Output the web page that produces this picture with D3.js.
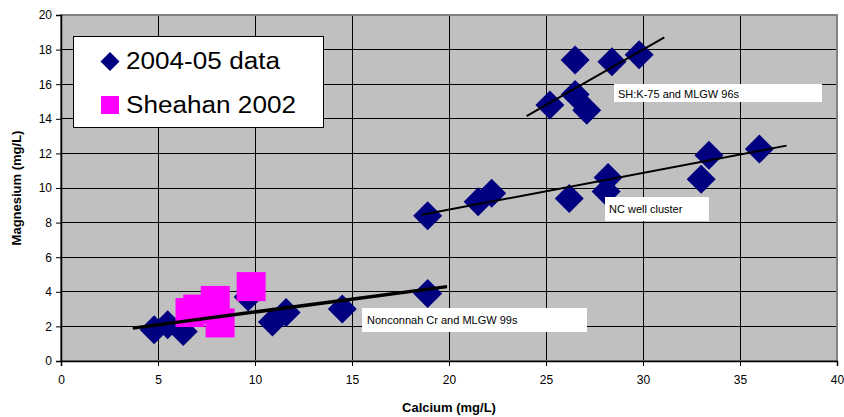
<!DOCTYPE html>
<html><head><meta charset="utf-8">
<script src="https://cdn.jsdelivr.net/npm/d3@7"></script>
<style>body{margin:0;background:#fff;}svg{display:block;font-family:"Liberation Sans",Arial,sans-serif;}</style>
</head><body>
<svg id="chart" width="844" height="417"></svg>
<script>
// Data: Calcium (mg/L) vs Magnesium (mg/L)
const data0405Ca = [4.8, 5.5, 6.3, 9.65, 10.9, 11.6, 14.5, 18.9,
                    18.9, 21.5, 22.2, 26.2, 28.1, 28.2, 33.0, 33.4, 36.0,
                    25.2, 26.5, 27.1, 26.5, 28.4, 29.8];
const data0405Mg = [1.8, 2.1, 1.7, 3.7, 2.25, 2.8, 3.0, 3.9,
                    8.4, 9.2, 9.7, 9.4, 9.8, 10.6, 10.5, 11.9, 12.25,
                    14.8, 15.4, 14.5, 17.4, 17.3, 17.7];
const sheahanCa = [6.65, 7.05, 7.95, 8.2, 9.8];
const sheahanMg = [2.8, 3.0, 3.5, 2.2, 4.3];
// Trend lines [Ca start, Mg start, Ca end, Mg end]
const trendLow = [3.7, 1.9, 19.9, 4.3];
const trendMid = [18.6, 8.45, 37.4, 12.45];
const trendTop = [24.0, 14.15, 31.1, 18.7];
const xTicks = [0, 5, 10, 15, 20, 25, 30, 35, 40];
const yTicks = [0, 2, 4, 6, 8, 10, 12, 14, 16, 18, 20];
const seriesNames = ["2004-05 data", "Sheahan 2002"];
const annotations = ["SH:K-75 and MLGW 96s", "NC well cluster", "Nonconnah Cr and MLGW 99s"];

const svg = d3.select("#chart");
const L = 61, R = 837, T = 15, B = 361;
const x = d3.scaleLinear().domain([0, 40]).range([L, R]);
const y = d3.scaleLinear().domain([0, 20]).range([B, T]);

// plot background
svg.append("rect").attr("x", L).attr("y", T).attr("width", R - L).attr("height", B - T)
  .attr("fill", "#C0C0C0");
// gridlines
svg.append("g").selectAll("line.v").data(xTicks.slice(1, -1)).join("line")
  .attr("x1", d => x(d)).attr("x2", d => x(d)).attr("y1", T).attr("y2", B)
  .attr("stroke", "#000").attr("stroke-width", 1).attr("shape-rendering", "crispEdges");
svg.append("g").selectAll("line.h").data(yTicks.slice(1, -1)).join("line")
  .attr("y1", d => y(d)).attr("y2", d => y(d)).attr("x1", L).attr("x2", R)
  .attr("stroke", "#000").attr("stroke-width", 1).attr("shape-rendering", "crispEdges");
// border
svg.append("rect").attr("x", L).attr("y", T).attr("width", R - L).attr("height", B - T)
  .attr("fill", "none").attr("stroke", "#808080").attr("stroke-width", 2);

// axes
const xAxis = d3.axisBottom(x).tickValues(xTicks).tickSize(5).tickPadding(9).tickFormat(d3.format("d"));
const gx = svg.append("g").attr("transform", `translate(0,${B})`).call(xAxis);
const yAxis = d3.axisLeft(y).tickValues(yTicks).tickSize(5).tickPadding(4).tickFormat(d3.format("d"));
const gy = svg.append("g").attr("transform", `translate(${L},0)`).call(yAxis);
[gx, gy].forEach(g => {
  g.select(".domain").attr("stroke", "#000").attr("stroke-width", 1.5);
  g.selectAll(".tick line").attr("stroke", "#000");
  g.selectAll(".tick text").attr("font-size", 12).attr("fill", "#000")
    .attr("font-family", "'Liberation Sans', Arial, sans-serif");
});

// axis titles
svg.append("text").attr("x", (L + R) / 2).attr("y", 412).attr("text-anchor", "middle")
  .attr("font-size", 13).attr("font-weight", "bold").text("Calcium (mg/L)");
svg.append("text").attr("transform", `translate(21,${(T + B) / 2}) rotate(-90)`)
  .attr("text-anchor", "middle").attr("font-size", 13).attr("font-weight", "bold").text("Magnesium (mg/L)");

// points
const pts0405 = data0405Ca.map((c, i) => [c, data0405Mg[i]]);
const ptsSheahan = sheahanCa.map((c, i) => [c, sheahanMg[i]]);
const dH = 14.5;
svg.append("g").selectAll("path").data(pts0405).join("path")
  .attr("d", d => `M${x(d[0])},${y(d[1]) - dH}L${x(d[0]) + dH},${y(d[1])}L${x(d[0])},${y(d[1]) + dH}L${x(d[0]) - dH},${y(d[1])}Z`)
  .attr("fill", "#000080");
const sH = 14.5;
svg.append("g").selectAll("rect").data(ptsSheahan).join("rect")
  .attr("x", d => x(d[0]) - sH).attr("y", d => y(d[1]) - sH)
  .attr("width", 2 * sH).attr("height", 2 * sH).attr("fill", "#FF00FF");

// trend lines
[[trendLow, 3.5], [trendMid, 2], [trendTop, 2]].forEach(([t, w]) => {
  svg.append("line").attr("x1", x(t[0])).attr("y1", y(t[1])).attr("x2", x(t[2])).attr("y2", y(t[3]))
    .attr("stroke", "#000").attr("stroke-width", w);
});

// annotation boxes
const annBoxes = [
  {t: annotations[0], x0: 614, y0: 84, w: 208, h: 18, tx: 618, ty: 98},
  {t: annotations[1], x0: 605, y0: 197, w: 104, h: 24, tx: 609, ty: 213},
  {t: annotations[2], x0: 362, y0: 308, w: 225, h: 24, tx: 367, ty: 324}
];
annBoxes.forEach(a => {
  svg.append("rect").attr("x", a.x0).attr("y", a.y0).attr("width", a.w).attr("height", a.h).attr("fill", "#fff");
  svg.append("text").attr("x", a.tx).attr("y", a.ty).attr("font-size", 11).attr("fill", "#000").text(a.t);
});

// legend
svg.append("rect").attr("x", 73.5).attr("y", 36.5).attr("width", 250).attr("height", 91)
  .attr("fill", "#fff").attr("stroke", "#000").attr("stroke-width", 1);
svg.append("path").attr("d", "M110,52L119.5,61.5L110,71L100.5,61.5Z").attr("fill", "#000080");
svg.append("rect").attr("x", 101).attr("y", 96).attr("width", 18).attr("height", 18).attr("fill", "#FF00FF");
svg.append("text").attr("x", 126).attr("y", 68.5).attr("font-size", 23)
  .attr("textLength", 154).attr("lengthAdjust", "spacingAndGlyphs").text(seriesNames[0]);
svg.append("text").attr("x", 126).attr("y", 113).attr("font-size", 23)
  .attr("textLength", 170).attr("lengthAdjust", "spacingAndGlyphs").text(seriesNames[1]);
</script>
</body></html>
